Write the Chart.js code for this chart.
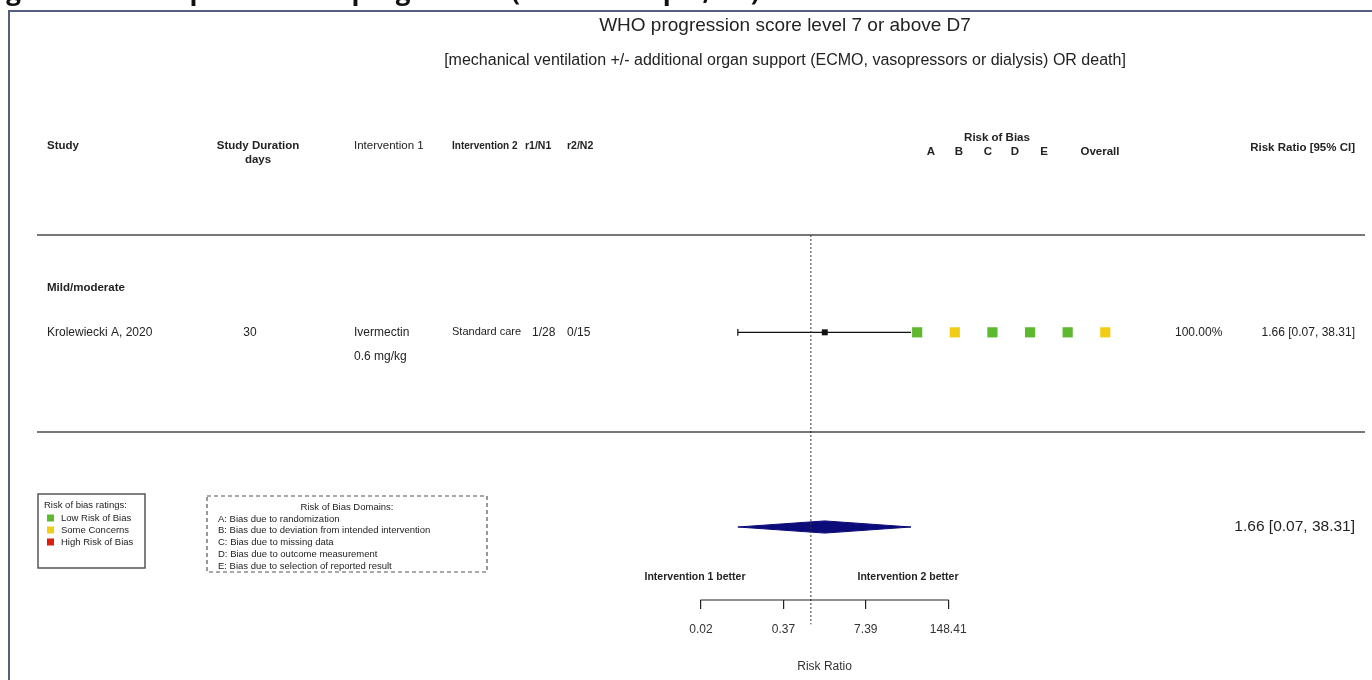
<!DOCTYPE html>
<html>
<head>
<meta charset="utf-8">
<script src="https://cdn.jsdelivr.net/npm/chart.js@4.4.1/dist/chart.umd.min.js"></script>
<style>
  html, body { margin: 0; padding: 0; background: #fff; overflow: hidden; }
  canvas { display: block; }
</style>
</head>
<body>
<canvas id="forest" width="1372" height="680"></canvas>
<script>
// ---------- study table ----------
const subgroupLabels = ['Mild/moderate'];
const studyNames     = ['Krolewiecki A, 2020'];
const durationDays   = ['30'];
const intervention1  = [['Ivermectin', '0.6 mg/kg']];
const intervention2  = ['Standard care'];
const events1        = ['1/28'];
const events2        = ['0/15'];
const studyWeights   = ['100.00%'];

// ---------- effect sizes (risk ratio) ----------
const studyRR    = [1.66];
const studyLower = [0.07];
const studyUpper = [38.31];
const pooledRR    = [1.66];
const pooledLower = [0.07];
const pooledUpper = [38.31];

// ---------- risk of bias ----------
const robDomains = ['A', 'B', 'C', 'D', 'E', 'Overall'];
const robRatings = [['low', 'some', 'low', 'low', 'low', 'some']];
const robLegendLabels = ['Low Risk of Bias', 'Some Concerns', 'High Risk of Bias'];
const robDomainNotes = [
  'A: Bias due to randomization',
  'B: Bias due to deviation from intended intervention',
  'C: Bias due to missing data',
  'D: Bias due to outcome measurement',
  'E: Bias due to selection of reported result'
];

// ---------- axis ----------
const axisTickLogs   = [-4, -1, 2, 5];
const axisTickLabels = ['0.02', '0.37', '7.39', '148.41'];

// ---------- styling ----------
const FONT = "'Liberation Sans', Arial, Helvetica, sans-serif";
const INK = '#232323';
const ROB_COLORS = { low: '#5fb92e', some: '#f2cd16', high: '#de1b12' };
const DIAMOND = '#0b0b7a';
const STUDY_ROW = 4;     // y-scale row of the first study
const POOLED_ROW = 0;    // y-scale row of the pooled estimate
const DIAMOND_HALF = 0.125;
const CAP_HALF = 0.07;

const ln = Math.log;
const fmtCI = (e, lo, hi) => `${e.toFixed(2)} [${lo.toFixed(2)}, ${hi.toFixed(2)}]`;

function txt(ctx, s, x, y, o = {}) {
  ctx.save();
  ctx.font = `${o.bold ? 'bold ' : ''}${o.size || 12}px ${o.family || FONT}`;
  ctx.fillStyle = o.color || INK;
  ctx.textAlign = o.align || 'left';
  ctx.textBaseline = o.baseline || 'middle';
  ctx.fillText(s, x, y);
  ctx.restore();
}

// ---------- datasets built from the arrays ----------
const ciSegments = studyRR.flatMap((_, i) => [
  { x: ln(studyLower[i]), y: STUDY_ROW - i },
  { x: ln(studyUpper[i]), y: STUDY_ROW - i },
  { x: null, y: null }
]);
const ciCaps = studyRR.flatMap((_, i) => [
  { x: ln(studyLower[i]), y: STUDY_ROW - i - CAP_HALF },
  { x: ln(studyLower[i]), y: STUDY_ROW - i + CAP_HALF },
  { x: null, y: null }
]);
const pointEstimates = studyRR.map((v, i) => ({ x: ln(v), y: STUDY_ROW - i }));
const diamond = [
  { x: ln(pooledLower[0]), y: POOLED_ROW },
  { x: ln(pooledRR[0]),    y: POOLED_ROW + DIAMOND_HALF },
  { x: ln(pooledUpper[0]), y: POOLED_ROW },
  { x: ln(pooledRR[0]),    y: POOLED_ROW - DIAMOND_HALF },
  { x: ln(pooledLower[0]), y: POOLED_ROW }
];
const robPoints = robRatings.flatMap((row, i) => row.map((r, j) => ({ x: j + 1, y: STUDY_ROW - i })));
const robPointColors = robRatings.flat().map(r => ROB_COLORS[r]);

// ---------- decorations: frame, headings, table text, legends ----------
const forestDecor = {
  id: 'forestDecor',
  beforeDraw(chart) {
    const ctx = chart.ctx;
    ctx.save();
    ctx.fillStyle = '#fff';
    ctx.fillRect(0, 0, chart.width, chart.height);
    // page heading (runs off the top of the page)
    txt(ctx, 'Figure 7: Forest plot disease progression (Whole sample, D7)', -16, 0,
        { size: 26, bold: true, color: '#111', baseline: 'alphabetic', family: "'Open Sans', 'Liberation Sans', sans-serif" });
    // frame
    ctx.strokeStyle = '#52607e';
    ctx.lineWidth = 2;
    ctx.strokeRect(9, 11, chart.width + 20, chart.height + 20);
    // table rules
    ctx.strokeStyle = '#4a4a4a';
    ctx.lineWidth = 1.5;
    [235, 432].forEach(y => {
      ctx.beginPath(); ctx.moveTo(37, y); ctx.lineTo(1365, y); ctx.stroke();
    });
    ctx.restore();
  },
  afterDraw(chart) {
    // axis line spanning the first to the last tick, plus its title
    const ctx = chart.ctx;
    const xs = chart.scales.x;
    const yb = chart.chartArea.bottom;
    const x0 = xs.getPixelForValue(axisTickLogs[0]);
    const x1 = xs.getPixelForValue(axisTickLogs[axisTickLogs.length - 1]);
    ctx.save();
    ctx.strokeStyle = '#222';
    ctx.lineWidth = 1.2;
    ctx.beginPath();
    ctx.moveTo(x0 - 0.6, yb);
    ctx.lineTo(x1 + 0.6, yb);
    ctx.stroke();
    ctx.restore();
    txt(ctx, 'Risk Ratio', (x0 + x1) / 2, 667, { size: 12, color: '#333', align: 'center' });
  },
  afterDatasetsDraw(chart) {
    const ctx = chart.ctx;
    const ys = chart.scales.y;

    // titles
    txt(ctx, 'WHO progression score level 7 or above D7', 785, 26, { size: 19, align: 'center' });
    txt(ctx, '[mechanical ventilation +/- additional organ support (ECMO, vasopressors or dialysis) OR death]', 785, 61, { size: 16, align: 'center' });

    // column headers
    const H = 146;
    txt(ctx, 'Study', 47, H, { bold: true, size: 11.5 });
    txt(ctx, 'Study Duration', 258, H, { bold: true, size: 11.5, align: 'center' });
    txt(ctx, 'days', 258, H + 14, { bold: true, size: 11.5, align: 'center' });
    txt(ctx, 'Intervention 1', 354, H, { size: 11.5 });
    txt(ctx, 'Intervention 2', 452, H, { bold: true, size: 10 });
    txt(ctx, 'r1/N1', 525, H, { bold: true, size: 10.5 });
    txt(ctx, 'r2/N2', 567, H, { bold: true, size: 10.5 });
    txt(ctx, 'Risk of Bias', 997, H - 8, { bold: true, size: 11.5, align: 'center' });
    const robHeadX = [931, 959, 988, 1015, 1044, 1100];
    robDomains.forEach((d, j) => txt(ctx, d, robHeadX[j], H + 6, { bold: true, size: 11.5, align: 'center' }));
    txt(ctx, 'Risk Ratio [95% CI]', 1355, H + 2, { bold: true, size: 11.5, align: 'right' });

    // subgroup + study rows
    subgroupLabels.forEach((g, k) => txt(ctx, g, 47, ys.getPixelForValue(STUDY_ROW + 0.92 - k), { bold: true, size: 11.5 }));
    studyNames.forEach((name, i) => {
      const y = ys.getPixelForValue(STUDY_ROW - i);
      txt(ctx, name, 47, y, { size: 12 });
      txt(ctx, durationDays[i], 250, y, { size: 12, align: 'center' });
      intervention1[i].forEach((line, k) => txt(ctx, line, 354, y + k * 24, { size: 12 }));
      txt(ctx, intervention2[i], 452, y, { size: 11 });
      txt(ctx, events1[i], 532, y, { size: 12 });
      txt(ctx, events2[i], 567, y, { size: 12 });
      txt(ctx, studyWeights[i], 1175, y, { size: 12 });
      txt(ctx, fmtCI(studyRR[i], studyLower[i], studyUpper[i]), 1355, y, { size: 12, align: 'right' });
    });

    // pooled estimate text
    txt(ctx, fmtCI(pooledRR[0], pooledLower[0], pooledUpper[0]), 1355, ys.getPixelForValue(POOLED_ROW), { size: 15.5, align: 'right' });

    // direction labels above the axis
    txt(ctx, 'Intervention 1 better', 695, 577, { bold: true, size: 10.5, align: 'center' });
    txt(ctx, 'Intervention 2 better', 908, 577, { bold: true, size: 10.5, align: 'center' });

    // rating legend
    ctx.save();
    ctx.strokeStyle = '#555';
    ctx.lineWidth = 1.5;
    ctx.strokeRect(38, 494, 107, 74);
    ctx.restore();
    txt(ctx, 'Risk of bias ratings:', 44, 505, { size: 9.5 });
    ['low', 'some', 'high'].forEach((r, k) => {
      const y = 518 + k * 12;
      ctx.fillStyle = ROB_COLORS[r];
      ctx.fillRect(47, y - 3.5, 7, 7);
      txt(ctx, robLegendLabels[k], 61, y, { size: 9.5 });
    });

    // domain legend
    ctx.save();
    ctx.strokeStyle = '#555';
    ctx.lineWidth = 1.2;
    ctx.setLineDash([4, 3]);
    ctx.strokeRect(207, 496, 280, 76);
    ctx.restore();
    txt(ctx, 'Risk of Bias Domains:', 347, 507, { size: 9.5, align: 'center' });
    robDomainNotes.forEach((line, k) => txt(ctx, line, 218, 519 + k * 11.8, { size: 9.5 }));
  }
};

new Chart(document.getElementById('forest'), {
  data: {
    datasets: [
      { // line of no effect (RR = 1)
        type: 'line', data: [{ x: 0, y: 6 }, { x: 0, y: -2 }],
        borderColor: '#333', borderWidth: 1, borderDash: [2, 2], pointRadius: 0, clip: false
      },
      { // confidence intervals
        type: 'line', data: ciSegments, spanGaps: false,
        borderColor: '#111', borderWidth: 1.2, pointRadius: 0, clip: false
      },
      { // lower interval caps
        type: 'line', data: ciCaps, spanGaps: false,
        borderColor: '#111', borderWidth: 1.2, pointRadius: 0, clip: false
      },
      { // study point estimates
        type: 'scatter', data: pointEstimates,
        pointStyle: 'rect', pointRadius: 4.2, backgroundColor: '#111', borderWidth: 0, clip: false
      },
      { // pooled estimate
        type: 'line', data: diamond, fill: 'shape', tension: 0,
        borderColor: DIAMOND, backgroundColor: DIAMOND, borderWidth: 1, pointRadius: 0, clip: false
      },
      { // risk-of-bias judgements, one square per domain
        type: 'bubble', xAxisID: 'xr', data: robPoints,
        pointStyle: 'rect', radius: 7.2, backgroundColor: robPointColors, borderWidth: 0, clip: false
      }
    ]
  },
  options: {
    responsive: false,
    animation: false,
    events: [],
    devicePixelRatio: 1,
    // plotting region: log-RR axis on the left part, risk-of-bias columns on the right part
    layout: { padding: { left: 701, right: 259, top: 235, bottom: 0 } },
    plugins: { legend: { display: false }, tooltip: { enabled: false } },
    scales: {
      x: {
        type: 'linear', position: 'bottom', min: -4, max: 11,
        afterBuildTicks: s => { s.ticks = axisTickLogs.map(v => ({ value: v })); },
        afterFit: s => { s.height = 80; },
        ticks: {
          callback: (v, i) => axisTickLabels[i],
          font: { size: 12, family: FONT }, color: '#333', padding: 13,
          maxRotation: 0, autoSkip: false
        },
        grid: { drawOnChartArea: false, drawTicks: true, tickLength: 9, color: '#222', lineWidth: 1.2 },
        border: { display: false },
        title: { display: false }
      },
      xr: { type: 'linear', axis: 'x', position: 'bottom', display: false, min: -4.745, max: 6.205 },
      y: { type: 'linear', display: false, min: -1.5, max: 6 }
    }
  },
  plugins: [forestDecor]
});
</script>
</body>
</html>
